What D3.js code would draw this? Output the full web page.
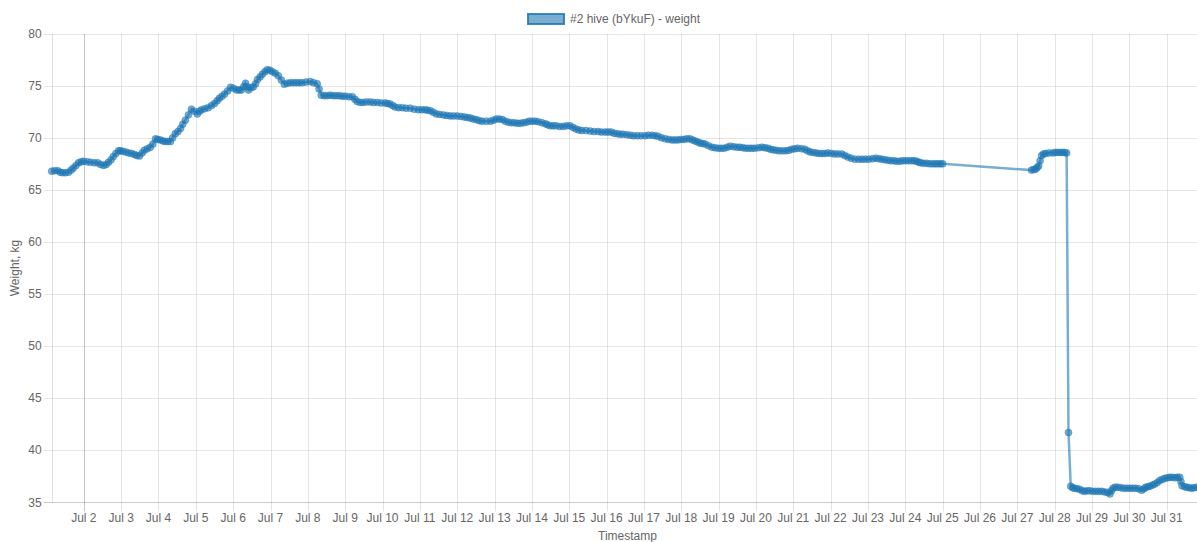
<!DOCTYPE html>
<html>
<head>
<meta charset="utf-8">
<script src="https://cdn.jsdelivr.net/npm/d3@7"></script>
<style>
  html, body { margin: 0; padding: 0; background: #fff; overflow: hidden; }
  svg { display: block; font-family: "Helvetica Neue", Helvetica, Arial, "Liberation Sans", sans-serif; }
</style>
</head>
<body>
<div id="chart"></div>
<script>
// Hive scale readings: [day of July (fractional), weight kg]
const readings = [
  [1.14, 66.8], [1.22, 66.85], [1.30, 66.85], [1.37, 66.7], [1.43, 66.65], [1.51, 66.65],
  [1.59, 66.7], [1.66, 66.9], [1.72, 67.1], [1.79, 67.35], [1.86, 67.6], [1.93, 67.7],
  [1.99, 67.75], [2.09, 67.7], [2.18, 67.65], [2.28, 67.6], [2.37, 67.6], [2.45, 67.45],
  [2.53, 67.35], [2.60, 67.45], [2.66, 67.65], [2.73, 67.9], [2.79, 68.2], [2.86, 68.5],
  [2.93, 68.75], [2.98, 68.75], [3.04, 68.7], [3.12, 68.65], [3.20, 68.55], [3.28, 68.5],
  [3.36, 68.4], [3.42, 68.3], [3.49, 68.25], [3.56, 68.55], [3.62, 68.8], [3.70, 68.95],
  [3.78, 69.1], [3.85, 69.4], [3.92, 69.9], [3.98, 69.85], [4.05, 69.8], [4.12, 69.7],
  [4.18, 69.65], [4.25, 69.65], [4.32, 69.65], [4.38, 70.0], [4.45, 70.4], [4.52, 70.6],
  [4.59, 70.9], [4.65, 71.3], [4.72, 71.7], [4.80, 72.2], [4.88, 72.75], [4.96, 72.55],
  [5.04, 72.3], [5.10, 72.55], [5.15, 72.7], [5.24, 72.8], [5.33, 72.9], [5.42, 73.1],
  [5.50, 73.3], [5.57, 73.55], [5.63, 73.8], [5.70, 74.0], [5.77, 74.2], [5.85, 74.5],
  [5.93, 74.85], [6.01, 74.75], [6.09, 74.6], [6.16, 74.6], [6.22, 74.6], [6.28, 74.9],
  [6.33, 75.25], [6.37, 74.9], [6.41, 74.6], [6.48, 74.8], [6.54, 74.9], [6.60, 75.2],
  [6.65, 75.6], [6.72, 75.85], [6.78, 76.1], [6.85, 76.35], [6.91, 76.55], [6.98, 76.5],
  [7.05, 76.35], [7.13, 76.2], [7.21, 75.95], [7.29, 75.55], [7.37, 75.15], [7.45, 75.25],
  [7.53, 75.3], [7.61, 75.3], [7.69, 75.3], [7.77, 75.3], [7.85, 75.3], [7.95, 75.35],
  [8.06, 75.4], [8.15, 75.3], [8.25, 75.2], [8.30, 74.7], [8.36, 74.1], [8.44, 74.05],
  [8.52, 74.05], [8.60, 74.1], [8.68, 74.05], [8.76, 74.05], [8.84, 74.05], [8.92, 74.0],
  [9.00, 74.0], [9.10, 73.95], [9.19, 73.95], [9.26, 73.7], [9.32, 73.5], [9.40, 73.4],
  [9.48, 73.4], [9.57, 73.45], [9.67, 73.45], [9.76, 73.4], [9.86, 73.4], [9.96, 73.35],
  [10.07, 73.35], [10.13, 73.3], [10.20, 73.25], [10.27, 73.1], [10.34, 72.95], [10.43, 72.9],
  [10.53, 72.9], [10.63, 72.85], [10.74, 72.85], [10.85, 72.75], [10.96, 72.7], [11.05, 72.7],
  [11.14, 72.7], [11.21, 72.65], [11.28, 72.6], [11.36, 72.45], [11.44, 72.3], [11.53, 72.25],
  [11.63, 72.2], [11.72, 72.15], [11.81, 72.1], [11.90, 72.1], [12.00, 72.1], [12.10, 72.05],
  [12.19, 72.0], [12.27, 71.95], [12.35, 71.9], [12.43, 71.8], [12.51, 71.75], [12.59, 71.65],
  [12.67, 71.6], [12.78, 71.6], [12.89, 71.6], [12.97, 71.7], [13.05, 71.8], [13.13, 71.8],
  [13.21, 71.75], [13.29, 71.6], [13.37, 71.5], [13.45, 71.45], [13.53, 71.45], [13.61, 71.4],
  [13.69, 71.4], [13.77, 71.45], [13.85, 71.5], [13.93, 71.6], [14.01, 71.6], [14.09, 71.6],
  [14.17, 71.55], [14.27, 71.45], [14.36, 71.35], [14.42, 71.25], [14.49, 71.15], [14.57, 71.15],
  [14.65, 71.15], [14.75, 71.1], [14.84, 71.1], [14.93, 71.15], [15.02, 71.15], [15.10, 71.0],
  [15.18, 70.85], [15.26, 70.75], [15.34, 70.7], [15.45, 70.7], [15.56, 70.65], [15.66, 70.6],
  [15.77, 70.6], [15.86, 70.55], [15.96, 70.55], [16.04, 70.55], [16.12, 70.55], [16.20, 70.45],
  [16.28, 70.4], [16.36, 70.35], [16.44, 70.35], [16.54, 70.3], [16.63, 70.25], [16.72, 70.2],
  [16.82, 70.2], [16.92, 70.2], [17.03, 70.2], [17.12, 70.25], [17.22, 70.25], [17.30, 70.2],
  [17.38, 70.15], [17.47, 70.0], [17.57, 69.9], [17.66, 69.85], [17.75, 69.8], [17.83, 69.8],
  [17.91, 69.8], [17.99, 69.85], [18.07, 69.85], [18.15, 69.9], [18.23, 69.9], [18.30, 69.8],
  [18.37, 69.7], [18.44, 69.6], [18.50, 69.5], [18.57, 69.45], [18.64, 69.4], [18.73, 69.25],
  [18.82, 69.1], [18.90, 69.05], [18.99, 69.0], [19.07, 69.0], [19.15, 69.0], [19.23, 69.1],
  [19.31, 69.2], [19.40, 69.15], [19.49, 69.1], [19.57, 69.1], [19.65, 69.05], [19.73, 69.0],
  [19.81, 69.0], [19.89, 69.0], [19.97, 69.0], [20.07, 69.05], [20.16, 69.1], [20.24, 69.05],
  [20.32, 69.0], [20.39, 68.9], [20.46, 68.85], [20.54, 68.8], [20.62, 68.75], [20.71, 68.75],
  [20.80, 68.75], [20.88, 68.8], [20.96, 68.9], [21.04, 68.95], [21.12, 69.0], [21.22, 68.95],
  [21.31, 68.9], [21.38, 68.75], [21.45, 68.65], [21.53, 68.6], [21.61, 68.55], [21.69, 68.5],
  [21.77, 68.5], [21.85, 68.5], [21.93, 68.55], [22.02, 68.5], [22.11, 68.45], [22.20, 68.45],
  [22.30, 68.45], [22.38, 68.3], [22.46, 68.15], [22.55, 68.05], [22.65, 67.95], [22.75, 67.95],
  [22.84, 67.95], [22.93, 67.95], [23.02, 67.95], [23.12, 68.0], [23.21, 68.05], [23.29, 68.0],
  [23.37, 67.95], [23.45, 67.9], [23.53, 67.85], [23.61, 67.8], [23.69, 67.8], [23.77, 67.75],
  [23.85, 67.75], [23.93, 67.8], [24.01, 67.8], [24.09, 67.8], [24.17, 67.8], [24.24, 67.8],
  [24.30, 67.75], [24.36, 67.65], [24.41, 67.6], [24.49, 67.55], [24.57, 67.55], [24.65, 67.5],
  [24.73, 67.5], [24.80, 67.5], [24.87, 67.5], [24.94, 67.5], [25.00, 67.5],
  [27.38, 66.9], [27.44, 66.95], [27.49, 67.0], [27.53, 67.15], [27.57, 67.3], [27.61, 67.8],
  [27.65, 68.3], [27.70, 68.45], [27.76, 68.5], [27.85, 68.55], [27.95, 68.55], [28.02, 68.6],
  [28.08, 68.6], [28.15, 68.6], [28.21, 68.6], [28.27, 68.6], [28.32, 68.55], [28.37, 41.7],
  [28.43, 36.55], [28.48, 36.4], [28.53, 36.35], [28.60, 36.3], [28.67, 36.25], [28.74, 36.1],
  [28.80, 36.05], [28.87, 36.1], [28.94, 36.1], [29.02, 36.05], [29.10, 36.05], [29.18, 36.05],
  [29.26, 36.05], [29.34, 36.0], [29.42, 35.95], [29.48, 35.8], [29.52, 36.1], [29.56, 36.35],
  [29.62, 36.45], [29.69, 36.45], [29.77, 36.4], [29.85, 36.35], [29.93, 36.35], [30.01, 36.35],
  [30.09, 36.35], [30.17, 36.35], [30.25, 36.3], [30.33, 36.15], [30.39, 36.3], [30.44, 36.45],
  [30.50, 36.5], [30.55, 36.55], [30.62, 36.65], [30.68, 36.75], [30.75, 36.9], [30.81, 37.1],
  [30.88, 37.2], [30.95, 37.3], [31.02, 37.35], [31.08, 37.4], [31.15, 37.4], [31.22, 37.35],
  [31.28, 37.4], [31.35, 37.4], [31.38, 37.0], [31.41, 36.6], [31.48, 36.5], [31.54, 36.45],
  [31.60, 36.4], [31.67, 36.35], [31.73, 36.4], [31.80, 36.45], [31.90, 36.4], [31.98, 36.4]
];

const yTicks = [35, 40, 45, 50, 55, 60, 65, 70, 75, 80];
const seriesLabel = "#2 hive (bYkuF) - weight";
const xTitle = "Timestamp";
const yTitle = "Weight, kg";

const width = 1212, height = 542;
const plot = { left: 51.7, right: 1203.3, top: 33.7, bottom: 502.3 };
const blue = "31,119,180";

const toDate = (day) => new Date(new Date(2019, 6, 1, 0, 0).getTime() + (day - 1) * 864e5);
const data = readings.map(([day, kg]) => ({ t: toDate(day), kg }));

const x = d3.scaleTime()
  .domain(d3.extent(data, (d) => d.t))
  .range([plot.left, plot.right]);

const y = d3.scaleLinear()
  .domain([35, 80])
  .range([plot.bottom, plot.top]);

const svg = d3.select("#chart")
  .append("svg")
  .attr("width", width)
  .attr("height", height);

// Horizontal grid + y ticks
const yAxis = svg.append("g");
yAxis.selectAll("line")
  .data(yTicks)
  .enter()
  .append("line")
  .attr("x1", plot.left - 8)
  .attr("x2", plot.right)
  .attr("y1", (d) => Math.round(y(d)) + 0.5)
  .attr("y2", (d) => Math.round(y(d)) + 0.5)
  .attr("stroke", (d) => d === 35 ? "rgba(0,0,0,0.2)" : "rgba(0,0,0,0.1)");

yAxis.selectAll("text")
  .data(yTicks)
  .enter()
  .append("text")
  .attr("x", plot.left - 10)
  .attr("y", (d) => y(d))
  .attr("dy", "0.35em")
  .attr("text-anchor", "end")
  .attr("font-size", 12)
  .attr("fill", "#666")
  .text((d) => d);

// Vertical grid + day ticks
const days = x.ticks(d3.timeDay.every(1));
const xAxis = svg.append("g");
xAxis.selectAll("line")
  .data(days)
  .enter()
  .append("line")
  .attr("x1", (d) => Math.round(x(d)) + 0.5)
  .attr("x2", (d) => Math.round(x(d)) + 0.5)
  .attr("y1", plot.top)
  .attr("y2", plot.bottom + 9)
  .attr("stroke", (d, i) => i === 0 ? "rgba(0,0,0,0.22)" : "rgba(0,0,0,0.1)");

xAxis.selectAll("text")
  .data(days)
  .enter()
  .append("text")
  .attr("x", (d) => x(d))
  .attr("y", plot.bottom + 15)
  .attr("dy", "0.35em")
  .attr("text-anchor", "middle")
  .attr("font-size", 12)
  .attr("fill", "#666")
  .text(d3.timeFormat("%b %-d"));

// Left axis border
svg.append("line")
  .attr("x1", Math.round(plot.left) + 0.5)
  .attr("x2", Math.round(plot.left) + 0.5)
  .attr("y1", plot.top)
  .attr("y2", plot.bottom)
  .attr("stroke", "rgba(0,0,0,0.12)");

// Axis titles
svg.append("text")
  .attr("transform", `translate(19, ${(plot.top + plot.bottom) / 2}) rotate(-90)`)
  .attr("text-anchor", "middle")
  .attr("font-size", 12)
  .attr("fill", "#666")
  .text(yTitle);

svg.append("text")
  .attr("x", (plot.left + plot.right) / 2)
  .attr("y", 540)
  .attr("text-anchor", "middle")
  .attr("font-size", 12)
  .attr("fill", "#666")
  .text(xTitle);

// Legend
const legend = svg.append("g").attr("transform", "translate(527, 13)");
legend.append("rect")
  .attr("x", 1)
  .attr("y", 1)
  .attr("width", 36)
  .attr("height", 10)
  .attr("fill", `rgba(${blue},0.6)`)
  .attr("stroke", `rgba(${blue},0.85)`)
  .attr("stroke-width", 2);
legend.append("text")
  .attr("x", 43)
  .attr("y", 6)
  .attr("dy", "0.35em")
  .attr("font-size", 12)
  .attr("fill", "#666")
  .text(seriesLabel);

// Series
const line = d3.line()
  .x((d) => x(d.t))
  .y((d) => y(d.kg));

svg.append("path")
  .datum(data)
  .attr("d", line)
  .attr("fill", "none")
  .attr("stroke", `rgba(${blue},0.6)`)
  .attr("stroke-width", 2.5);

svg.append("g")
  .selectAll("circle")
  .data(data)
  .enter()
  .append("circle")
  .attr("cx", (d) => x(d.t))
  .attr("cy", (d) => y(d.kg))
  .attr("r", 3.5)
  .attr("fill", `rgba(${blue},0.62)`)
  .attr("stroke", `rgba(${blue},0.4)`)
  .attr("stroke-width", 1);
</script>
</body>
</html>
